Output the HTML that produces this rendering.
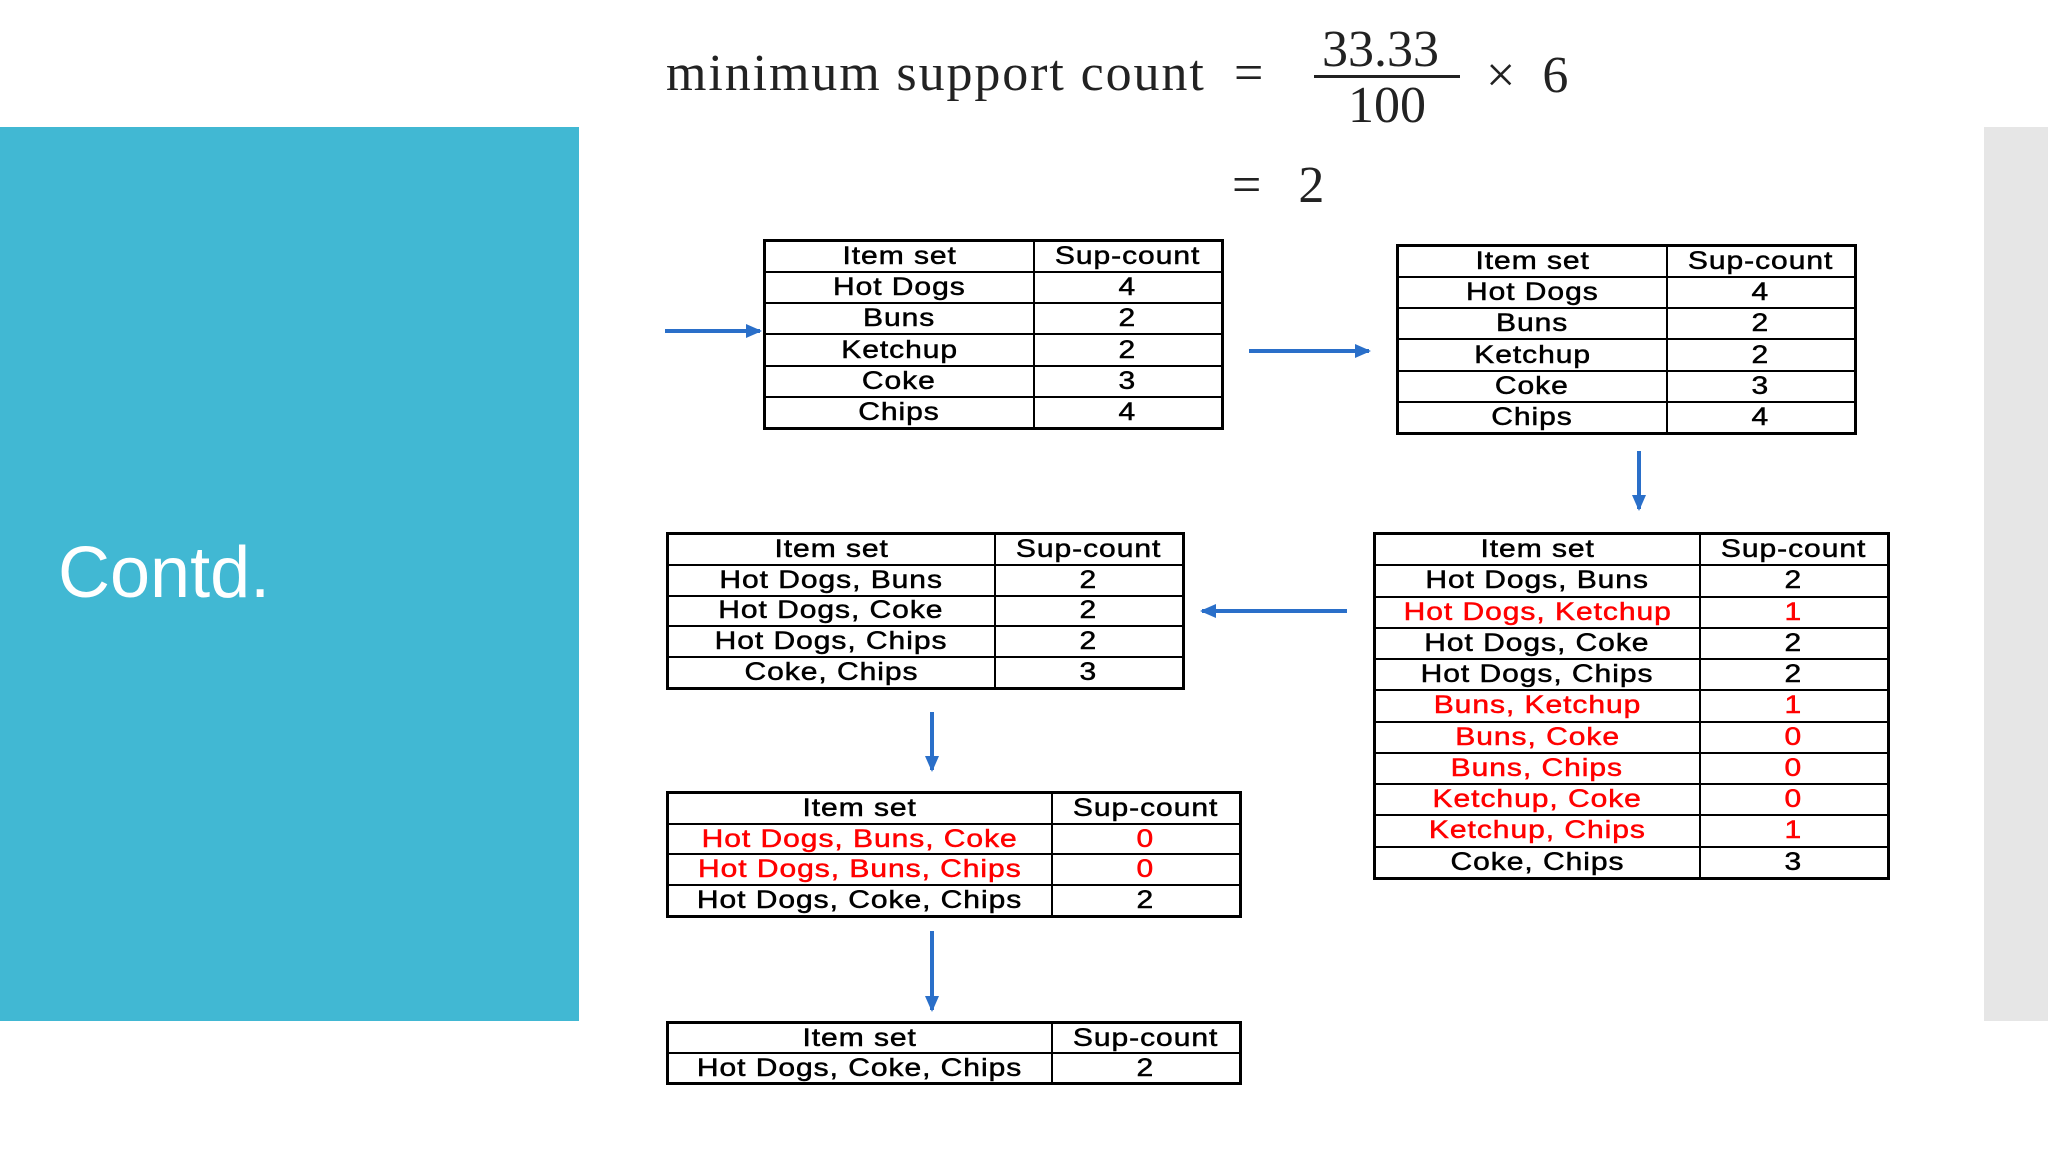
<!DOCTYPE html>
<html><head><meta charset="utf-8"><style>
body{margin:0;width:2048px;height:1152px;background:#fff;position:relative;overflow:hidden;font-family:"Liberation Sans",Arial,sans-serif}
.abs{position:absolute}
table{position:absolute;border-collapse:collapse;table-layout:fixed;border:3px solid #000}
td{border:2px solid #000;text-align:center;font-size:25px;padding:0;line-height:1;color:#000;white-space:nowrap;letter-spacing:0.8px;-webkit-text-stroke:0.5px currentColor}
td span{display:inline-block;transform:scaleX(1.2)}
.r td{color:#f00}
.serif{font-family:"Liberation Serif",serif;font-size:52px;color:#222}
</style></head><body>
<div class="abs" style="left:0;top:127px;width:579px;height:894px;background:#41b8d3"></div>
<div class="abs" style="left:1984px;top:127px;width:64px;height:894px;background:#e6e6e6"></div>
<div class="abs" style="left:58px;top:532px;font-size:72px;color:#fff;font-family:'Liberation Sans',sans-serif">Contd.</div>

<div class="abs serif" style="left:666px;top:44px;letter-spacing:1.9px">minimum support count</div>
<div class="abs serif" style="left:1234px;top:44px">=</div>
<div class="abs serif" style="left:1322px;top:20px">33.33</div>
<div class="abs" style="left:1314px;top:75px;width:146px;height:3px;background:#222"></div>
<div class="abs serif" style="left:1348px;top:76px">100</div>
<div class="abs serif" style="left:1486px;top:46px;word-spacing:14px">× 6</div>
<div class="abs serif" style="left:1232px;top:156px;word-spacing:24px">= 2</div>

<svg class="abs" style="left:0;top:0" width="2048" height="1152">
<defs><marker id="a" markerWidth="16" markerHeight="14" refX="14" refY="7" orient="auto" markerUnits="userSpaceOnUse"><path d="M0,0L16,7L0,14z" fill="#2a6fc9"/></marker></defs>
<g stroke="#2a6fc9" stroke-width="4" marker-end="url(#a)">
<line x1="665" y1="331" x2="760" y2="331"/>
<line x1="1249" y1="351" x2="1369" y2="351"/>
<line x1="1639" y1="451" x2="1639" y2="509"/>
<line x1="1347" y1="611" x2="1202" y2="611"/>
<line x1="932" y1="712" x2="932" y2="770"/>
<line x1="932" y1="931" x2="932" y2="1010"/>
</g></svg>

<table style="left:763px;top:239px;width:461px;height:191px"><col style="width:269px"><col>
<tr><td><span>Item set</span></td><td><span>Sup-count</span></td></tr><tr><td><span>Hot Dogs</span></td><td><span>4</span></td></tr><tr><td><span>Buns</span></td><td><span>2</span></td></tr><tr><td><span>Ketchup</span></td><td><span>2</span></td></tr><tr><td><span>Coke</span></td><td><span>3</span></td></tr><tr><td><span>Chips</span></td><td><span>4</span></td></tr></table>

<table style="left:1396px;top:244px;width:461px;height:191px"><col style="width:269px"><col>
<tr><td><span>Item set</span></td><td><span>Sup-count</span></td></tr><tr><td><span>Hot Dogs</span></td><td><span>4</span></td></tr><tr><td><span>Buns</span></td><td><span>2</span></td></tr><tr><td><span>Ketchup</span></td><td><span>2</span></td></tr><tr><td><span>Coke</span></td><td><span>3</span></td></tr><tr><td><span>Chips</span></td><td><span>4</span></td></tr></table>

<table style="left:666px;top:532px;width:519px;height:158px"><col style="width:327px"><col>
<tr><td><span>Item set</span></td><td><span>Sup-count</span></td></tr><tr><td><span>Hot Dogs, Buns</span></td><td><span>2</span></td></tr><tr><td><span>Hot Dogs, Coke</span></td><td><span>2</span></td></tr><tr><td><span>Hot Dogs, Chips</span></td><td><span>2</span></td></tr><tr><td><span>Coke, Chips</span></td><td><span>3</span></td></tr></table>

<table style="left:1373px;top:532px;width:517px;height:348px"><col style="width:325px"><col>
<tr><td><span>Item set</span></td><td><span>Sup-count</span></td></tr>
<tr><td><span>Hot Dogs, Buns</span></td><td><span>2</span></td></tr>
<tr class="r"><td><span>Hot Dogs, Ketchup</span></td><td><span>1</span></td></tr>
<tr><td><span>Hot Dogs, Coke</span></td><td><span>2</span></td></tr>
<tr><td><span>Hot Dogs, Chips</span></td><td><span>2</span></td></tr>
<tr class="r"><td><span>Buns, Ketchup</span></td><td><span>1</span></td></tr>
<tr class="r"><td><span>Buns, Coke</span></td><td><span>0</span></td></tr>
<tr class="r"><td><span>Buns, Chips</span></td><td><span>0</span></td></tr>
<tr class="r"><td><span>Ketchup, Coke</span></td><td><span>0</span></td></tr>
<tr class="r"><td><span>Ketchup, Chips</span></td><td><span>1</span></td></tr>
<tr><td><span>Coke, Chips</span></td><td><span>3</span></td></tr></table>

<table style="left:666px;top:791px;width:576px;height:127px"><col style="width:384px"><col>
<tr><td><span>Item set</span></td><td><span>Sup-count</span></td></tr>
<tr class="r"><td><span>Hot Dogs, Buns, Coke</span></td><td><span>0</span></td></tr>
<tr class="r"><td><span>Hot Dogs, Buns, Chips</span></td><td><span>0</span></td></tr>
<tr><td><span>Hot Dogs, Coke, Chips</span></td><td><span>2</span></td></tr></table>

<table style="left:666px;top:1021px;width:576px;height:64px"><col style="width:384px"><col>
<tr><td><span>Item set</span></td><td><span>Sup-count</span></td></tr>
<tr><td><span>Hot Dogs, Coke, Chips</span></td><td><span>2</span></td></tr></table>
</body></html>
